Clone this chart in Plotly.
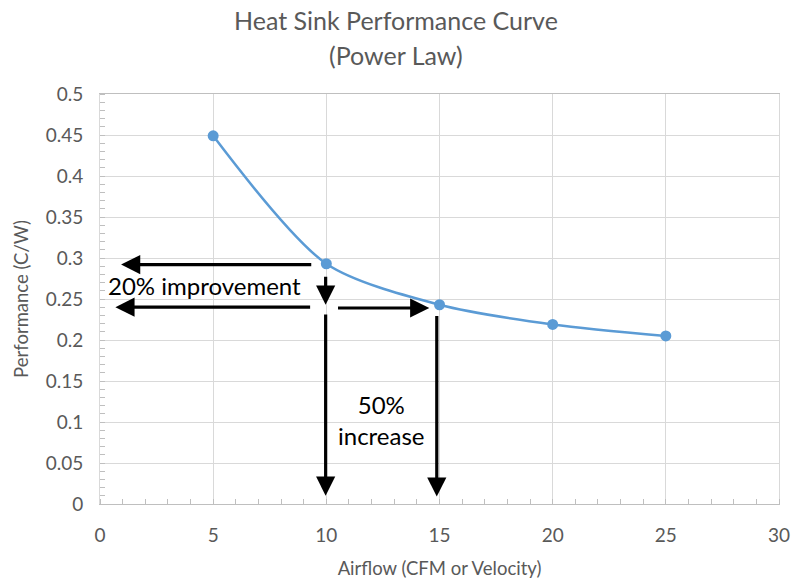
import plotly.graph_objects as go

# Data
airflow = [5, 10, 15, 20, 25]
performance = [0.449, 0.293, 0.243, 0.219, 0.205]

title_lines = ["Heat Sink Performance Curve", "(Power Law)"]
x_title = "Airflow (CFM or Velocity)"
y_title = "Performance (C/W)"
x_ticks = [0, 5, 10, 15, 20, 25, 30]
y_ticks = [0, 0.05, 0.1, 0.15, 0.2, 0.25, 0.3, 0.35, 0.4, 0.45, 0.5]

# Annotation arrows: (tip_x, tip_y, tail_x, tail_y)
arrows = [
    (0.93, 0.292, 9.40, 0.292),
    (0.68, 0.240, 9.35, 0.240),
    (9.97, 0.243, 9.97, 0.279),
    (14.55, 0.239, 10.45, 0.239),
    (9.97, 0.010, 9.97, 0.233),
    (14.88, 0.009, 14.88, 0.231),
]
labels = [
    (4.6, 0.267, "20% improvement"),
    (12.45, 0.103, "50%<br>increase"),
]

FONT = "Lato, 'Open Sans', sans-serif"
GREY = "#595959"

fig = go.Figure()
fig.add_trace(go.Scatter(
    x=airflow, y=performance, mode="lines+markers",
    line=dict(color="#5B9BD5", width=2.5, shape="spline", smoothing=0.8),
    marker=dict(color="#5B9BD5", size=11),
    showlegend=False, hoverinfo="skip",
))

annotations = []
for tx, ty, sx, sy in arrows:
    annotations.append(dict(
        x=tx, y=ty, ax=sx, ay=sy, xref="x", yref="y", axref="x", ayref="y",
        showarrow=True, arrowhead=2, arrowsize=1.2, arrowwidth=3.2,
        arrowcolor="black", text="",
    ))
for lx, ly, txt in labels:
    annotations.append(dict(
        x=lx, y=ly, xref="x", yref="y", text=txt, showarrow=False,
        font=dict(family=FONT, size=24, color="black"), align="center",
    ))
for ty, txt in zip([1.1805, 1.095], title_lines):
    annotations.append(dict(
        x=0.436, y=ty, xref="paper", yref="paper", text=txt, showarrow=False,
        xanchor="center", yanchor="middle",
        font=dict(family=FONT, size=25, color=GREY),
    ))

axis_common = dict(
    showgrid=True, gridcolor="#d9d9d9", gridwidth=1,
    showline=True, linecolor="#d9d9d9", linewidth=1, mirror=True,
    zeroline=False, ticks="", automargin=False,
    tickfont=dict(family=FONT, size=19, color=GREY),
)

fig.update_layout(
    width=792, height=581,
    margin=dict(l=100, r=13, t=94, b=77),
    paper_bgcolor="white", plot_bgcolor="white",
    xaxis=dict(range=[0, 30], tickvals=x_ticks, ticktext=[str(v) for v in x_ticks],
               ticklabelstandoff=14,
               title=dict(text=x_title, font=dict(family=FONT, size=18.5, color=GREY), standoff=17),
               minor=dict(dtick=1, ticks="inside", ticklen=5, tickcolor="#bfbfbf", showgrid=False),
               **axis_common),
    yaxis=dict(range=[0, 0.5], tickvals=y_ticks, ticktext=[f"{v:g}" for v in y_ticks],
               ticklabelstandoff=12,
               title=dict(text=y_title, font=dict(family=FONT, size=18.5, color=GREY), standoff=12),
               minor=dict(dtick=0.01, ticks="inside", ticklen=5, tickcolor="#bfbfbf", showgrid=False),
               **axis_common),
    annotations=annotations,
)
fig.update_xaxes(linecolor="#bfbfbf")

fig.write_html("out.html")
